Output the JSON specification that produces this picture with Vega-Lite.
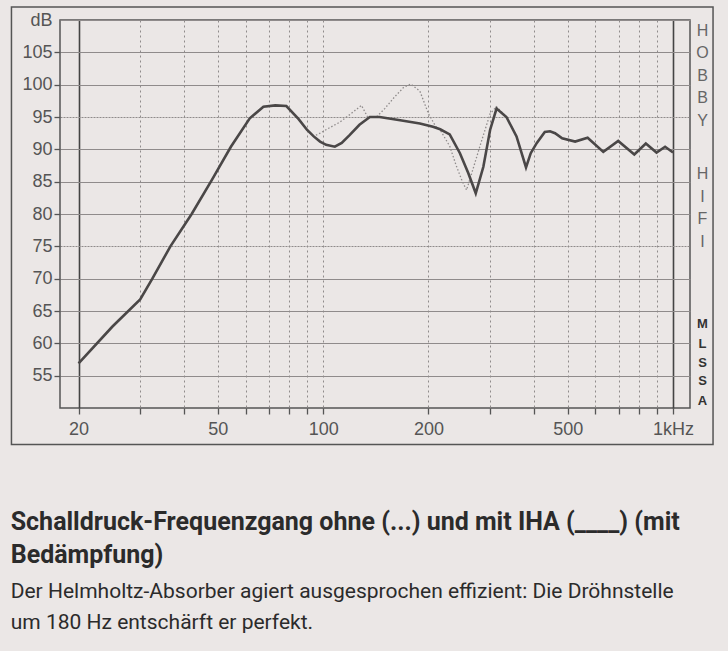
{
  "$schema": "https://vega.github.io/schema/vega-lite/v6.json",
  "width": 630,
  "height": 388,
  "autosize": {"type": "none"},
  "padding": {"left": 60, "top": 20, "right": 38, "bottom": 243},
  "background": "#ebe7e6",
  "config": {
    "view": {"stroke": "#555555", "strokeWidth": 1.5},
    "font": "Liberation Sans"
  },
  "title": {
    "text": ["Schalldruck-Frequenzgang ohne (...) und mit IHA (____) (mit", "Bedämpfung)"],
    "subtitle": ["Der Helmholtz-Absorber agiert ausgesprochen effizient: Die Dröhnstelle", "um 180 Hz entschärft er perfekt."],
    "orient": "bottom",
    "anchor": "start",
    "frame": "bounds",
    "offset": 65,
    "font": "Roboto",
    "fontSize": 25,
    "fontWeight": "bold",
    "color": "#2b2b2b",
    "lineHeight": 33,
    "subtitleFont": "Roboto",
    "subtitleFontSize": 21,
    "subtitleColor": "#2b2b2b",
    "subtitleLineHeight": 31,
    "subtitlePadding": 13
  },
  "datasets": {
    "mit": [
      {"f": 20, "db": 56.9}, {"f": 25, "db": 62.6}, {"f": 30, "db": 66.8}, {"f": 32.5, "db": 70.0},
      {"f": 36.6, "db": 75.0}, {"f": 42.1, "db": 80.0}, {"f": 48, "db": 85.2}, {"f": 54.5, "db": 90.4},
      {"f": 61.7, "db": 94.8}, {"f": 67.5, "db": 96.6}, {"f": 73, "db": 96.8}, {"f": 78.5, "db": 96.7},
      {"f": 85, "db": 94.7}, {"f": 90, "db": 93.0}, {"f": 94, "db": 92.0}, {"f": 98, "db": 91.2},
      {"f": 102, "db": 90.7}, {"f": 108, "db": 90.4}, {"f": 113, "db": 91.0}, {"f": 119, "db": 92.2},
      {"f": 127, "db": 93.8}, {"f": 136, "db": 95.0}, {"f": 145, "db": 95.0}, {"f": 166, "db": 94.5},
      {"f": 189, "db": 94.0}, {"f": 206, "db": 93.5}, {"f": 216, "db": 93.1}, {"f": 230, "db": 92.3},
      {"f": 246, "db": 89.4}, {"f": 260, "db": 86.3}, {"f": 273, "db": 83.2}, {"f": 287, "db": 87.3},
      {"f": 300, "db": 93.0}, {"f": 313, "db": 96.3}, {"f": 334, "db": 95.0}, {"f": 357, "db": 92.0},
      {"f": 380, "db": 87.2}, {"f": 392, "db": 89.4}, {"f": 408, "db": 91.0}, {"f": 430, "db": 92.7},
      {"f": 445, "db": 92.8}, {"f": 460, "db": 92.5}, {"f": 482, "db": 91.7}, {"f": 525, "db": 91.2},
      {"f": 570, "db": 91.8}, {"f": 632, "db": 89.6}, {"f": 697, "db": 91.3}, {"f": 775, "db": 89.2},
      {"f": 836, "db": 90.9}, {"f": 897, "db": 89.5}, {"f": 949, "db": 90.4}, {"f": 1000, "db": 89.5}
    ],
    "ohne": [
      {"f": 20, "db": 56.9}, {"f": 25, "db": 62.6}, {"f": 30, "db": 66.8}, {"f": 32.5, "db": 70.0},
      {"f": 36.6, "db": 75.0}, {"f": 42.1, "db": 80.0}, {"f": 48, "db": 85.2}, {"f": 54.5, "db": 90.4},
      {"f": 61.7, "db": 94.8}, {"f": 67.5, "db": 96.6}, {"f": 73, "db": 96.8}, {"f": 78.5, "db": 96.7},
      {"f": 85, "db": 94.7}, {"f": 90, "db": 93.0}, {"f": 94, "db": 92.0}, {"f": 98, "db": 92.5},
      {"f": 104, "db": 93.3}, {"f": 111.6, "db": 94.2}, {"f": 120, "db": 95.5}, {"f": 128.7, "db": 96.8},
      {"f": 134, "db": 95.0}, {"f": 142, "db": 95.0}, {"f": 150, "db": 96.3}, {"f": 160, "db": 98.1},
      {"f": 170, "db": 99.6}, {"f": 178, "db": 100.1}, {"f": 189, "db": 99.0}, {"f": 200, "db": 95.5},
      {"f": 210, "db": 93.5}, {"f": 216, "db": 93.0}, {"f": 230, "db": 90.5}, {"f": 240, "db": 87.5},
      {"f": 250, "db": 85.0}, {"f": 257, "db": 83.7}, {"f": 270, "db": 87.5}, {"f": 284, "db": 91.4},
      {"f": 300, "db": 95.5}, {"f": 313, "db": 96.6}, {"f": 334, "db": 95.0}, {"f": 357, "db": 92.0},
      {"f": 380, "db": 87.2}, {"f": 392, "db": 89.4}, {"f": 408, "db": 91.0}, {"f": 430, "db": 92.7},
      {"f": 445, "db": 92.8}, {"f": 460, "db": 92.5}, {"f": 482, "db": 91.7}, {"f": 525, "db": 91.2},
      {"f": 570, "db": 91.8}, {"f": 632, "db": 89.6}, {"f": 697, "db": 91.3}, {"f": 775, "db": 89.2},
      {"f": 836, "db": 90.9}, {"f": 897, "db": 89.5}, {"f": 949, "db": 90.4}, {"f": 1000, "db": 89.5}
    ]
  },
  "layer": [
    {
      "data": {"values": [{}]},
      "mark": {"type": "rect", "fill": "transparent", "stroke": "#555555", "strokeWidth": 1.5, "clip": false},
      "encoding": {
        "x": {"datum": 12.86, "type": "quantitative", "scale": {"type": "log", "domain": [17.7, 1118], "nice": false}},
        "x2": {"datum": 1301},
        "y": {"datum": 112.0, "type": "quantitative", "scale": {"domain": [50, 110], "nice": false, "zero": false}, "axis": null},
        "y2": {"datum": 44.37}
      }
    },
    {
      "data": {"name": "ohne"},
      "mark": {"type": "line", "color": "#8f8b8b", "strokeWidth": 1.3, "strokeDash": [1.5, 2]},
      "encoding": {
        "x": {"field": "f", "type": "quantitative", "scale": {"type": "log", "domain": [17.7, 1118], "nice": false}},
        "y": {
          "field": "db", "type": "quantitative",
          "scale": {"domain": [50, 110], "nice": false, "zero": false},
          "axis": {
            "orient": "right", "title": null, "ticks": false, "domain": false, "grid": false,
            "values": [108.45, 105.05, 101.49, 98.08, 94.52, 86.32, 82.76, 79.35, 75.79, 63.1, 60.0, 57.06, 54.27, 51.18],
            "labelExpr": "['H','O','B','B','Y','H','I','F','I','M','L','S','S','A'][indexof([108.45, 105.05, 101.49, 98.08, 94.52, 86.32, 82.76, 79.35, 75.79, 63.1, 60.0, 57.06, 54.27, 51.18], datum.value)]",
            "labelAlign": "center", "labelBaseline": "middle", "labelPadding": 12, "labelOverlap": false, "labelFlush": false,
            "labelFontSize": {"condition": {"test": "datum.value < 65", "value": 13}, "value": 16},
            "labelFontWeight": {"condition": {"test": "datum.value < 65", "value": "bold"}, "value": "normal"},
            "labelColor": {"condition": {"test": "datum.value < 65", "value": "#333333"}, "value": "#666666"}
          }
        }
      }
    },
    {
      "data": {"name": "mit"},
      "mark": {"type": "line", "color": "#4a4747", "strokeWidth": 2.6},
      "encoding": {
        "x": {
          "field": "f", "type": "quantitative",
          "scale": {"type": "log", "domain": [17.7, 1118], "nice": false},
          "axis": {
            "title": null, "domain": false, "grid": true,
            "values": [20, 30, 40, 50, 60, 70, 80, 90, 100, 200, 300, 400, 500, 600, 700, 800, 900, 1000],
            "labelExpr": "datum.value == 1000 ? '1kHz' : (indexof([20, 50, 100, 200, 500], datum.value) >= 0 ? '' + datum.value : '')",
            "labelOverlap": false, "labelFlush": false,
            "labelFontSize": 18, "labelColor": "#555555", "labelPadding": 6,
            "tickSize": 6, "tickColor": "#555555", "tickWidth": 1.3,
            "gridColor": {"condition": {"test": "datum.value == 20 || datum.value == 1000", "value": "#444444"}, "value": "#8f8b8b"},
            "gridWidth": {"condition": {"test": "datum.value == 20 || datum.value == 1000", "value": 1.6}, "value": 1},
            "gridDash": {"condition": {"test": "datum.value == 20 || datum.value == 1000", "value": []}, "value": [2, 3]},
            "gridOpacity": 1
          }
        },
        "y": {
          "field": "db", "type": "quantitative",
          "scale": {"domain": [50, 110], "nice": false, "zero": false},
          "axis": {
            "title": null, "domain": false, "grid": true,
            "values": [55, 60, 65, 70, 75, 80, 85, 90, 95, 100, 105, 110],
            "labelExpr": "datum.value == 110 ? 'dB' : '' + datum.value",
            "labelOverlap": false, "labelFlush": false,
            "labelFontSize": 18, "labelColor": "#555555", "labelPadding": 2,
            "tickSize": 6, "tickColor": "#555555", "tickWidth": 1.3,
            "tickOpacity": {"condition": {"test": "datum.value == 110", "value": 0}, "value": 1},
            "gridColor": "#8f8b8b", "gridWidth": 1,
            "gridDash": {"condition": {"test": "datum.value == 95 || datum.value == 75", "value": [2, 1]}, "value": []},
            "gridOpacity": 1
          }
        }
      }
    }
  ],
  "resolve": {"axis": {"y": "independent"}}
}
